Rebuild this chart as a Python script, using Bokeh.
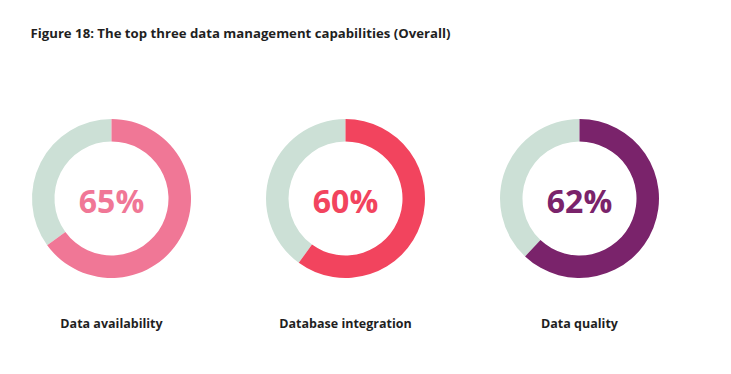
import math
from bokeh.plotting import figure
from bokeh.models import Range1d, ColumnDataSource
from bokeh.core.properties import value
from bokeh.embed import file_html
from bokeh.resources import INLINE

title = "Figure 18: The top three data management capabilities (Overall)"
categories = ["Data availability", "Database integration", "Data quality"]
percents = [65, 60, 62]
colors = ["#F07796", "#F2445E", "#7A236B"]
rest_color = "#CCE0D6"

W, H = 715, 358
p = figure(width=W, height=H, output_backend="svg", toolbar_location=None,
           x_range=Range1d(0, W), y_range=Range1d(374 - H, 374),
           min_border=0, outline_line_color=None)
p.axis.visible = False
p.grid.visible = False

def Y(img_y):
    return 374 - img_y

cx = [111 + i * 234 for i in range(len(categories))]
cy = Y(198)
start = math.pi / 2
ends = [start - 2 * math.pi * v / 100 for v in percents]

# remainder (light)
p.annular_wedge(x=cx, y=[cy] * 3, inner_radius=57, outer_radius=79.5,
                inner_radius_units="screen", outer_radius_units="screen",
                start_angle=start, end_angle=ends, direction="anticlock",
                fill_color=rest_color, line_color=None)
# value
src = ColumnDataSource(dict(x=cx, y=[cy] * 3, ly=[Y(323)] * 3, end=ends, color=colors,
                            label=[f"{v}%" for v in percents], cat=categories))
p.annular_wedge(x="x", y="y", inner_radius=57, outer_radius=79.5,
                inner_radius_units="screen", outer_radius_units="screen",
                start_angle=start, end_angle="end", direction="clock",
                fill_color="color", line_color=None, source=src)

p.text(x="x", y="y", text="label", text_color="color", text_font=value("Open Sans"),
       text_font_style="bold", text_font_size="32px", text_align="center",
       text_baseline="middle", source=src, y_offset=2)

p.text(x="x", y="ly", text="cat", text_color="#1F1F1F",
       text_font=value("Open Sans"), text_font_style="bold", text_font_size="12.5px",
       text_align="center", text_baseline="middle", source=src)

p.text(x=[30], y=[Y(32)], text=[title], text_color="#1F1F1F",
       text_font=value("Open Sans"), text_font_style="bold", text_font_size="13.2px",
       text_align="left", text_baseline="middle")

open("out.html", "w").write(file_html(p, INLINE))
